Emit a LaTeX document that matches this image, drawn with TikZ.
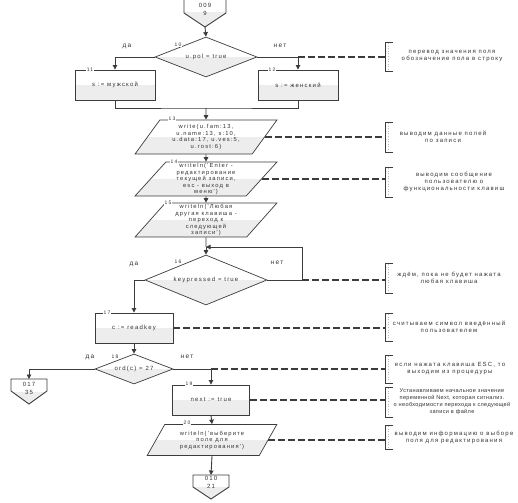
\documentclass[tikz,border=0pt]{standalone}
\usepackage{fontspec}
\newfontfamily\df[LetterSpace=20]{Liberation Sans}
\newfontfamily\dfn[LetterSpace=6]{Liberation Sans}
\usetikzlibrary{shapes.geometric,arrows.meta}
\definecolor{lc}{HTML}{3C3C3C}
\definecolor{tc}{HTML}{333333}
\definecolor{lf}{HTML}{EDEDED}
\tikzset{
 ln/.style={draw=lc, line width=0.9pt},
 arr/.style={ln, -{Triangle[length=4.5pt,width=4.5pt]}},
 cmt/.style={draw=lc, line width=1.2pt, dash pattern=on 7pt off 3pt},
 txt/.style={font=\df\fontsize{6}{7}\selectfont, align=center, inner sep=0pt, text=tc},
 half/.style={path picture={\fill[lf] (path picture bounding box.west) rectangle (path picture bounding box.south east);}},
 rbox/.style={txt, half, draw=lc, line width=0.9pt, rectangle, minimum width=#1, minimum height=30pt},
 para/.style={txt, font=\df\fontsize{5.8}{6.5}\selectfont, half, draw=lc, line width=0.7pt, trapezium, trapezium left angle=54, trapezium right angle=126, trapezium stretches=true, minimum width=142pt, minimum height=34pt},
 dia/.style={txt, half, draw=lc, line width=0.7pt, diamond, aspect=2.5},
 num/.style={font=\df\fontsize{5}{5}\selectfont, inner sep=0.6pt, fill=white, text=tc},
 lbl/.style={font=\df\fontsize{6.5}{7}\selectfont, inner sep=0pt, text=tc},
 brk/.style={draw=lc, line width=0.9pt},
 conn/.style={draw=lc, line width=0.9pt, half},
}
\newcommand\mycomment[6][]{%
 \coordinate (#2) at (385,{(#3+#4)/2});
 \draw[brk] (393,#3) -- (385,#3) -- (385,#4) -- (393,#4);
 \draw[gray!55, line width=0.6pt, dotted] (388.5,{#3+1}) -- (388.5,{#4-1});
 \node[txt,#1] (#2t) at (#5,{(#3+#4)/2}) {#6};
}
\begin{document}
\begin{tikzpicture}[x=1pt,y=-1pt]
\useasboundingbox[fill=white] (0,0) rectangle (518,502);

% top connector
\path[conn] (184,-2) -- (184,13) -- (205,27) -- (226,13) -- (226,-2);
\coordinate (c9) at (205,27);
\node[txt, font=\df\fontsize{6}{8}\selectfont] (c9t) at (205,9) {009\\9};

% decision 10
\node[dia, minimum width=102pt, minimum height=40pt] (d10) at (206,57) {u.pol = true};
\node[num] (n10) at (178,45) {10};
\draw[arr] (c9) -- (d10.north);

\node[rbox=80pt] (b11) at (115,85) {s := мужской};
\node[rbox=80pt] (b12) at (298,85) {s := женский};
\node[num] (n11) at (90,70) {11};
\node[num] (n12) at (272,70) {12};
\draw[arr] (d10.west) -| (b11.north);
\draw[arr] (d10.east) -| (b12.north);
\node[lbl] (yes10) at (127,46) {да};
\node[lbl] (no10) at (280,46) {нет};

% merge
\coordinate (m1) at (206,108);
\draw[ln] (b11.south) |- (m1) -| (b12.south);

\node[para] (p13) at (206,137) {write(u.fam:13,\\u.name:13, s:10,\\u.data:17, u.ves:5,\\u.rost:6)};
\node[para] (p14) at (206,179) {writeln('Enter -\\редактирование\\текущей записи,\\esc - выход в\\меню')};
\node[para] (p15) at (206,220) {writeln('Любая\\другая клавиша -\\переход к\\следующей\\записи')};
\node[num] (n13) at (172,119) {13};
\node[num] (n14) at (174,162) {14};
\node[num] (n15) at (168,203) {15};
\draw[arr] (m1) -- (p13.north);
\draw[arr] (p13.south) -- (p14.north);
\draw[arr] (p14.south) -- (p15.north);

% decision 16 with loop
\coordinate (j16) at (206,247);
\node[dia, minimum width=122pt, minimum height=50pt] (d16) at (206,280) {keypressed = true};
\node[num] (n16) at (178,262) {16};
\draw[ln] (p15.south) -- (j16);
\draw[arr] (j16) -- (d16.north);
\coordinate (r16) at (302,280);
\draw[arr] (d16.east) -- (r16) |- (j16);
\node[lbl] (yes16) at (134,264) {да};
\node[lbl] (no16) at (277,263) {нет};

\node[rbox=78pt] (b17) at (134,328) {c := readkey};
\node[num] (n17) at (107,313) {17};
\draw[arr] (d16.west) -| (b17.north);

\node[dia, minimum width=78pt, minimum height=30pt] (d18) at (134,369) {ord(c) = 27};
\node[num] (n18) at (115,357) {18};
\draw[arr] (b17.south) -- (d18.north);
\node[lbl] (yes18) at (90,357) {да};
\node[lbl] (no18) at (187,357) {нет};

% left connector
\path[conn] (11,379) -- (11,391) -- (29,404) -- (47,391) -- (47,379) -- cycle;
\coordinate (c17) at (29,379);
\node[txt, font=\df\fontsize{6}{8}\selectfont] (c17t) at (29,388) {017\\35};
\draw[arr] (d18.west) -| (c17);

\node[rbox=77pt] (b19) at (211,400) {next := true};
\node[num] (n19) at (189,384) {19};
\draw[arr] (d18.east) -| (b19.north);

\node[para, minimum width=130pt, minimum height=31pt, trapezium left angle=57, trapezium right angle=123] (p20) at (212,440) {writeln('выберите\\поле для\\редактирования')};
\node[num] (n20) at (187,423) {20};
\draw[arr] (b19.south) -- (p20.north);

% bottom connector
\path[conn] (193,475) -- (193,487) -- (211,499) -- (229,487) -- (229,475) -- cycle;
\coordinate (c21) at (211,475);
\node[txt, font=\df\fontsize{6}{8}\selectfont] (c21t) at (211,482) {010\\21};
\draw[arr] (p20.south) -- (c21);

% comments
\mycomment{k1}{42}{71}{452}{перевод значения поля\\обозначение пола в строку}
\mycomment{k13}{122}{152}{443}{выводим данные полей\\по записи}
\mycomment{k14}{167}{197}{454}{выводим сообщение\\пользователю о\\функциональности клавиш}
\mycomment{k16}{263}{293}{449}{ждём, пока не будет нажата\\любая клавиша}
\mycomment{k17}{313}{341}{449}{считываем символ введённый\\пользователем}
\mycomment{k18}{355}{383}{450}{если нажата клавиша ESC, то\\выходим из процедуры}
\mycomment[font=\dfn\fontsize{5.6}{7}\selectfont]{k19}{387}{417}{452}{Устанавливаем начальное значение\\переменной Next, которая сигнализ.\\о необходимости перехода к следующей\\записи в файле}
\mycomment{k20}{425}{449}{454}{выводим информацию о выборе\\поля для редактирования}

\draw[cmt] (b12.north |- d10.east) -- (k1 |- d10.east);
\draw[cmt] (p13.east) -- (p13.east -| k13);
\draw[cmt] (p14.east) -- (p14.east -| k14);
\draw[cmt] (r16) -- (r16 -| k16);
\draw[cmt] (b17.east) -- (b17.east -| k17);
\draw[cmt] (b19.north |- d18.east) -- (d18.east -| k18);
\draw[cmt] (b19.east) -- (b19.east -| k19);
\draw[cmt] (p20.east) -- (p20.east -| k20);
\end{tikzpicture}
\end{document}
